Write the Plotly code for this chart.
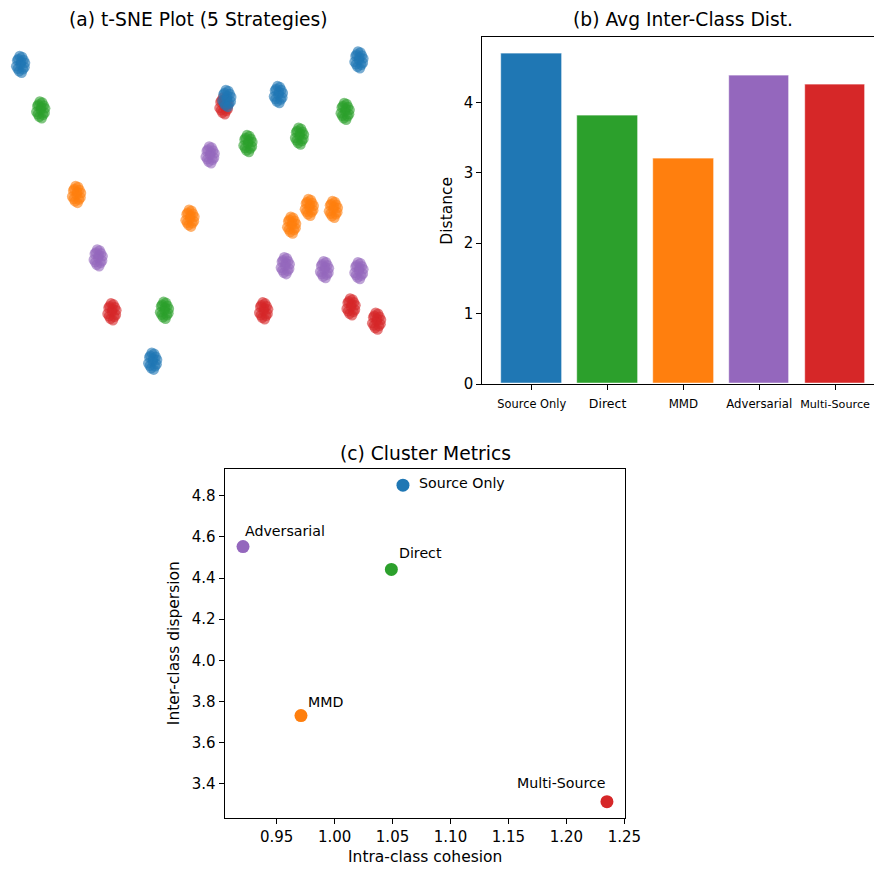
import plotly.graph_objects as go

# ---------------- data ----------------
# (a) t-SNE cluster centres (dim1, dim2), one list per class colour
tsne_blue_x = [-35.8, 33.1, 6.2, 16.7, -8.9]
tsne_blue_y = [29.4, 30.3, 22.5, 23.3, -30.6]
tsne_green_x = [-31.7, 30.3, 10.5, 21.0, -6.5]
tsne_green_y = [20.2, 19.9, 13.4, 14.9, -20.3]
tsne_purple_x = [2.8, -20.0, 18.1, 26.1, 33.1]
tsne_purple_y = [11.1, -9.7, -11.3, -12.1, -12.3]
tsne_orange_x = [-24.4, -1.3, 19.4, 23.0, 27.9]
tsne_orange_y = [3.1, -1.7, -3.1, 0.5, 0.1]
tsne_red_x = [5.6, -17.2, 13.7, 31.5, 36.7]
tsne_red_y = [21.0, -20.6, -20.4, -19.6, -22.5]
# member offsets within a cluster (read from blob shapes)
member_dx = [0.0, 0.6, -0.6, 0.9, -0.9, 0.3, -0.3, 0.5, -0.5, 0.1, 0.8, -0.7, 0.2, -0.2]
member_dy = [0.0, 0.9, -0.9, 0.3, -0.4, 1.5, -1.4, -1.0, 1.1, 0.5, -0.6, 0.8, -1.7, 1.7]

# (b) average inter-class distance
strategies = ["Source Only", "Direct", "MMD", "Adversarial", "Multi-Source"]
avg_inter_dist = [4.70, 3.81, 3.20, 4.38, 4.25]

# (c) cluster metrics
intra_cohesion = [1.059, 1.049, 0.971, 0.921, 1.235]
inter_dispersion = [4.852, 4.442, 3.731, 4.553, 3.312]

# ---------------- styles ----------------
C_BLUE, C_GREEN, C_ORANGE, C_PURPLE, C_RED = "#1f77b4", "#2ca02c", "#ff7f0e", "#9467bd", "#d62728"
strategy_colors = [C_BLUE, C_GREEN, C_ORANGE, C_PURPLE, C_RED]
tick_sizes = [11.4, 12.5, 11.8, 11.7, 11.2]
FONT = "DejaVu Sans"
W, H = 890, 875


def px_x(p):
    return p / W


def px_y(p):
    return 1 - p / H


fig = go.Figure()

# ---------------- (a) t-SNE ----------------
def expand(cx, cy):
    xs, ys = [], []
    for x0, y0 in zip(cx, cy):
        for dx, dy in zip(member_dx, member_dy):
            xs.append(x0 + dx)
            ys.append(y0 + dy)
    return xs, ys

for cx, cy, col in [
    (tsne_red_x, tsne_red_y, C_RED),
    (tsne_purple_x, tsne_purple_y, C_PURPLE),
    (tsne_orange_x, tsne_orange_y, C_ORANGE),
    (tsne_green_x, tsne_green_y, C_GREEN),
    (tsne_blue_x, tsne_blue_y, C_BLUE),
]:
    xs, ys = expand(cx, cy)
    fig.add_trace(go.Scatter(
        x=xs, y=ys, mode="markers", xaxis="x", yaxis="y",
        marker=dict(size=10.5, color=col, opacity=0.6, line=dict(width=0)),
        showlegend=False, hoverinfo="skip"))

# ---------------- (b) bars ----------------
fig.add_trace(go.Bar(
    x=list(range(len(strategies))), y=avg_inter_dist, xaxis="x2", yaxis="y2",
    width=0.8, marker=dict(color=strategy_colors, line=dict(color="rgba(255,255,255,0.6)", width=1)),
    showlegend=False))

# ---------------- (c) scatter ----------------
fig.add_trace(go.Scatter(
    x=intra_cohesion, y=inter_dispersion, mode="markers", xaxis="x3", yaxis="y3",
    marker=dict(size=13, color=strategy_colors, line=dict(width=0)),
    showlegend=False))

label_pos = {
    "Source Only": dict(xanchor="left", xshift=14, yshift=2),
    "Direct": dict(xanchor="left", xshift=6, yshift=16),
    "MMD": dict(xanchor="left", xshift=5, yshift=14),
    "Adversarial": dict(xanchor="left", xshift=0, yshift=16),
    "Multi-Source": dict(xanchor="right", xshift=1, yshift=19),
}
annotations = []
for name, xv, yv in zip(strategies, intra_cohesion, inter_dispersion):
    lp = label_pos[name]
    annotations.append(dict(
        x=xv, y=yv, xref="x3", yref="y3", text=name, showarrow=False,
        xanchor=lp["xanchor"], yanchor="middle", xshift=lp["xshift"], yshift=lp["yshift"],
        font=dict(size=14.2, color="black", family=FONT)))

# titles and axis labels
def ann(text, x, y, size, angle=0):
    return dict(text=text, x=px_x(x), y=px_y(y), xref="paper", yref="paper",
                showarrow=False, xanchor="center", yanchor="middle", textangle=angle,
                font=dict(size=size, color="black", family=FONT))

annotations += [
    ann("(a) t-SNE Plot (5 Strategies)", 202, 20, 18.7),
    ann("(b) Avg Inter-Class Dist.", 695.5, 20, 18.7),
    ann("(c) Cluster Metrics", 433, 458, 18.7),
    ann("Distance", 455, 213, 15.5, -90),
    ann("Inter-class dispersion", 177, 650, 15.5, -90),
    ann("Intra-class cohesion", 433, 866, 15.5),
]

axis_common = dict(showgrid=False, zeroline=False, showline=True, linecolor="black", linewidth=1,
                   ticks="outside", ticklen=5, tickwidth=1, tickcolor="black",
                   tickfont=dict(size=15, color="black", family=FONT))

fig.update_layout(
    width=W, height=H, margin=dict(l=0, r=0, t=0, b=0),
    paper_bgcolor="white", plot_bgcolor="white",
    font=dict(family=FONT, color="black"),
    bargap=0, hovermode=False,
    xaxis=dict(domain=[0, px_x(400)], range=[-40, 40], visible=False),
    yaxis=dict(domain=[px_y(388), px_y(37)], range=[-35.2, 35], visible=False),
    xaxis2=dict(domain=[px_x(491), 1.0], range=[-0.654, 4.514], anchor="y2", mirror=True,
                tickvals=list(range(len(strategies))),
                ticktext=[f'<span style="font-size:{s}px">{t}</span>' for t, s in zip(strategies, tick_sizes)],
                **axis_common),
    yaxis2=dict(domain=[px_y(388), px_y(37)], range=[0, 4.935], anchor="x2",
                tickvals=[0, 1, 2, 3, 4], **axis_common),
    xaxis3=dict(domain=[px_x(228.7), px_x(636.7)], range=[0.9051, 1.2508], anchor="y3", mirror=True,
                tickvals=[0.95, 1.00, 1.05, 1.10, 1.15, 1.20, 1.25],
                ticktext=["0.95", "1.00", "1.05", "1.10", "1.15", "1.20", "1.25"], **axis_common),
    yaxis3=dict(domain=[px_y(826), px_y(474)], range=[3.235, 4.930], anchor="x3", mirror=True,
                tickvals=[3.4, 3.6, 3.8, 4.0, 4.2, 4.4, 4.6, 4.8],
                ticktext=["3.4", "3.6", "3.8", "4.0", "4.2", "4.4", "4.6", "4.8"], **axis_common),
    annotations=annotations,
)

fig.write_html("out.html", config={"displayModeBar": False},
               post_script="document.body.style.margin='0';document.body.style.overflow='hidden';")
